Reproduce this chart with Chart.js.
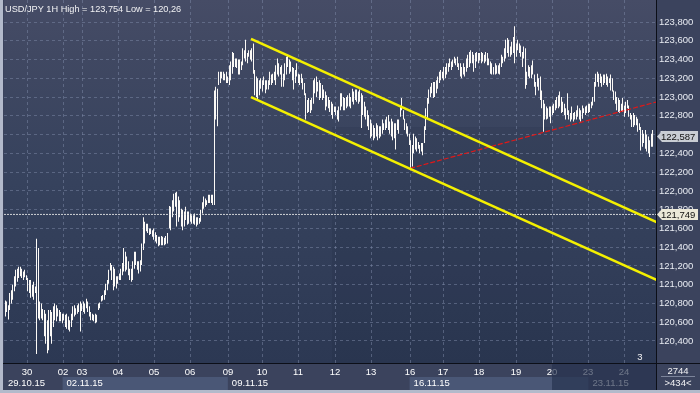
<!DOCTYPE html>
<html>
<head>
<meta charset="utf-8">
<script src="https://cdn.jsdelivr.net/npm/chart.js@4.4.1/dist/chart.umd.min.js"></script>
<style>
html, body { margin: 0; padding: 0; background: #3b435d; }
canvas { display: block; }
</style>
</head>
<body>
<canvas id="chart" width="700" height="393"></canvas>
<script>
// values
const symbol = 'USD/JPY 1H';
const highValue = '123,754';
const lowValue = '120,26';
const lastPrice = 122.587;
const levelPrice = 121.749;
const totalBars = 2744;
const visibleBars = 434;
const signalLabel = '3';

const priceTicks = [120.4, 120.6, 120.8, 121.0, 121.2, 121.4, 121.6, 121.8, 122.0, 122.2, 122.4, 122.6, 122.8, 123.0, 123.2, 123.4, 123.6, 123.8];
const dayTicks = [14.5, 38.5, 51.5, 75.5, 99.5, 123.5, 148.5, 171.5, 195.5, 219.5, 243.5, 269.5, 291.5, 315.5, 340.5, 364.5, 388.5, 412.5];
const dayLabels = ['30', '02', '03', '04', '05', '06', '09', '10', '11', '12', '13', '16', '17', '18', '19', '20', '23', '24'];
const weekTicks = [-0.5, 38.5, 148.5, 269.5, 388.5];
const weekLabels = ['29.10.15', '02.11.15', '09.11.15', '16.11.15', '23.11.15'];

// hourly bars, high and low
const high = [
  120.83,120.82,120.78,120.91,120.94,121.00,121.09,121.16,121.17,121.19,
  121.19,121.17,121.14,121.16,121.10,121.07,121.05,121.05,121.00,121.03,
  120.98,121.49,121.39,120.82,120.80,120.74,120.73,120.69,120.62,120.73,
  120.73,120.71,120.77,120.80,120.78,120.75,120.73,120.71,120.69,120.69,
  120.68,120.69,120.66,120.62,120.69,120.77,120.78,120.75,120.78,120.80,
  120.82,120.80,120.82,120.80,120.85,120.82,120.77,120.71,120.69,120.68,
  120.69,120.68,120.80,120.81,120.88,120.89,120.94,121.01,121.05,121.16,
  121.23,121.21,121.19,121.17,121.09,121.09,121.12,121.17,121.23,121.39,
  121.35,121.30,121.25,121.17,121.17,121.25,121.35,121.35,121.25,121.25,
  121.26,121.44,121.72,121.67,121.65,121.65,121.60,121.60,121.58,121.60,
  121.56,121.53,121.51,121.51,121.52,121.51,121.50,121.52,121.55,121.84,
  121.83,121.90,121.97,121.98,121.99,121.94,121.90,121.81,121.80,121.78,
  121.83,121.78,121.78,121.76,121.74,121.74,121.76,121.72,121.72,121.71,
  121.80,121.88,121.94,121.92,121.90,121.96,121.96,121.96,121.96,123.07,
  123.11,123.09,123.27,123.27,123.27,123.27,123.25,123.27,123.22,123.34,
  123.38,123.48,123.47,123.41,123.41,123.40,123.40,123.38,123.52,123.50,
  123.61,123.47,123.50,123.50,123.52,123.57,123.29,123.22,123.20,123.18,
  123.20,123.18,123.22,123.18,123.18,123.18,123.27,123.24,123.25,123.27,
  123.34,123.41,123.36,123.32,123.34,123.25,123.36,123.43,123.45,123.40,
  123.38,123.32,123.31,123.29,123.36,123.25,123.24,123.25,123.20,123.15,
  123.04,122.97,122.99,122.97,122.99,123.18,123.20,123.22,123.16,123.18,
  123.15,123.13,123.08,123.06,123.02,123.00,122.97,122.95,122.93,122.90,
  122.90,122.86,122.90,123.04,123.04,123.00,122.99,123.00,123.02,123.04,
  123.00,123.09,123.06,123.08,123.08,123.06,123.08,123.04,123.02,122.95,
  122.90,122.86,122.81,122.76,122.72,122.70,122.67,122.72,122.70,122.69,
  122.69,122.76,122.72,122.76,122.79,122.81,122.74,122.77,122.74,122.72,
  122.72,122.76,122.76,122.90,122.99,122.86,122.77,122.72,122.69,122.61,
  122.54,122.49,122.61,122.58,122.56,122.52,122.49,122.51,122.51,122.69,
  122.88,122.99,123.08,123.11,123.15,123.16,123.16,123.18,123.22,123.27,
  123.29,123.27,123.32,123.32,123.36,123.36,123.41,123.38,123.40,123.43,
  123.41,123.43,123.36,123.36,123.32,123.36,123.32,123.41,123.45,123.48,
  123.50,123.48,123.45,123.47,123.48,123.47,123.47,123.48,123.47,123.45,
  123.48,123.47,123.41,123.38,123.36,123.32,123.36,123.34,123.34,123.36,
  123.45,123.43,123.52,123.61,123.63,123.61,123.54,123.59,123.64,123.754,
  123.57,123.61,123.57,123.55,123.48,123.54,123.52,123.27,123.34,123.32,
  123.34,123.39,123.24,123.16,123.25,123.20,123.22,123.07,122.97,122.93,
  122.90,122.88,122.90,122.90,122.91,122.93,122.97,123.00,123.02,123.06,
  123.00,122.95,122.93,122.88,123.04,122.86,122.83,122.90,122.83,122.84,
  122.86,122.91,122.88,122.86,122.91,122.88,122.90,122.91,122.93,122.93,
  122.95,123.00,123.16,123.25,123.27,123.25,123.25,123.22,123.24,123.24,
  123.25,123.22,123.20,123.24,123.20,123.07,123.06,123.00,122.99,122.97,
  122.93,122.99,122.91,122.95,122.97,122.91,122.83,122.81,122.83,122.81,
  122.79,122.77,122.72,122.68,122.65,122.61,122.65,122.60,122.58,122.54,
  122.61,122.65
];
const low = [
  120.66,120.71,120.63,120.73,120.80,120.84,120.93,120.98,121.03,121.07,
  121.09,121.07,121.05,121.08,121.05,120.93,120.91,120.86,120.87,120.84,
  120.91,120.26,120.64,120.62,120.64,120.62,120.45,120.37,120.27,120.30,
  120.45,120.37,120.55,120.62,120.61,120.66,120.61,120.61,120.59,120.62,
  120.55,120.53,120.52,120.50,120.55,120.62,120.66,120.68,120.69,120.71,
  120.50,120.72,120.71,120.69,120.75,120.71,120.66,120.62,120.62,120.61,
  120.59,120.60,120.73,120.75,120.82,120.83,120.84,120.89,120.94,121.01,
  121.15,121.05,120.94,120.98,120.96,121.01,121.05,121.05,121.10,121.14,
  121.14,121.16,121.10,121.05,121.03,121.05,121.17,121.21,121.16,121.12,
  121.14,121.21,121.37,121.44,121.57,121.55,121.53,121.54,121.51,121.48,
  121.46,121.44,121.41,121.42,121.42,121.42,121.42,121.43,121.44,121.60,
  121.58,121.72,121.78,121.83,121.62,121.67,121.72,121.62,121.58,121.62,
  121.69,121.64,121.65,121.67,121.65,121.65,121.64,121.62,121.64,121.65,
  121.67,121.76,121.81,121.83,121.85,121.87,121.87,121.87,121.85,121.85,
  122.76,122.69,123.13,123.15,123.20,123.18,123.18,123.15,123.15,123.13,
  123.18,123.25,123.32,123.32,123.31,123.24,123.24,123.29,123.34,123.41,
  123.38,123.36,123.43,123.40,123.38,123.25,123.02,123.00,122.97,123.02,
  123.09,123.06,123.13,123.04,123.08,123.08,123.13,123.13,123.15,123.18,
  123.13,123.24,123.22,123.24,123.11,123.11,123.18,123.24,123.32,123.25,
  123.27,123.18,123.08,123.15,123.22,123.15,123.13,123.15,123.08,123.02,
  122.76,122.83,122.84,122.83,122.86,122.93,123.04,123.00,123.06,122.97,
  122.99,122.97,122.99,122.86,122.90,122.88,122.84,122.81,122.77,122.84,
  122.81,122.76,122.74,122.86,122.90,122.86,122.86,122.88,122.90,122.90,
  122.88,122.95,122.92,122.97,122.95,122.93,122.95,122.67,122.81,122.79,
  122.76,122.69,122.65,122.56,122.58,122.54,122.56,122.58,122.54,122.56,
  122.58,122.61,122.65,122.65,122.67,122.65,122.61,122.58,122.54,122.56,
  122.44,122.65,122.61,122.79,122.86,122.76,122.65,122.61,122.58,122.49,
  122.24,122.26,122.40,122.44,122.42,122.45,122.40,122.42,122.38,122.51,
  122.65,122.76,122.93,123.00,123.04,122.99,123.00,123.04,123.09,123.15,
  123.18,123.20,123.18,123.20,123.24,123.27,123.32,123.29,123.32,123.36,
  123.34,123.32,123.29,123.22,123.20,123.24,123.22,123.27,123.31,123.32,
  123.36,123.36,123.27,123.31,123.38,123.36,123.39,123.36,123.38,123.36,
  123.38,123.34,123.34,123.25,123.24,123.24,123.24,123.25,123.25,123.24,
  123.32,123.36,123.38,123.41,123.47,123.43,123.43,123.45,123.47,123.36,
  123.43,123.50,123.47,123.43,123.32,123.41,123.09,123.13,123.22,123.20,
  123.20,123.24,123.11,123.02,123.11,123.07,122.97,122.88,122.63,122.76,
  122.76,122.77,122.79,122.72,122.81,122.83,122.86,122.88,122.88,122.90,
  122.83,122.84,122.81,122.76,122.81,122.76,122.74,122.76,122.74,122.76,
  122.76,122.79,122.76,122.74,122.77,122.83,122.81,122.83,122.83,122.84,
  122.88,122.91,122.95,123.11,123.16,123.11,123.15,123.11,123.13,123.15,
  123.13,123.11,123.15,123.07,123.06,122.97,122.93,122.86,122.84,122.83,
  122.84,122.84,122.79,122.83,122.88,122.79,122.76,122.68,122.68,122.70,
  122.70,122.63,122.65,122.43,122.47,122.51,122.45,122.42,122.40,122.36,
  122.47,122.47
];

// drawn trend lines (bar index, price)
const channelTop = [{x: 164, y: 123.62}, {x: 434, y: 121.665}];
const channelBottom = [{x: 164, y: 123.00}, {x: 434, y: 121.05}];
const supportLine = [{x: 270, y: 122.24}, {x: 434, y: 122.95}];
const levelLine = [{x: -0.5, y: levelPrice}, {x: 433.5, y: levelPrice}];
const shadeRange = {from: 217.5, to: 364.5, top: 122.68};
const fadeFrom = 364.5;

function fmt(v, d) { return v.toFixed(d).replace('.', ','); }

// no label padding, the frame is fixed
function noPad(s) {
    s.paddingLeft = 0; s.paddingRight = 0; s.paddingTop = 0; s.paddingBottom = 0;
}

Chart.defaults.font.family = 'Liberation Sans';
Chart.defaults.font.size = 9.5;
Chart.defaults.color = '#eef0f6';

const gridColor = 'rgba(125,138,168,0.5)';

const frame = {
    id: 'frame',
    beforeDraw(chart) {
        const {ctx, chartArea: a, scales} = chart;
        ctx.save();
        ctx.fillStyle = '#3b435d';
        ctx.fillRect(0, 0, chart.width, chart.height);
        const g = ctx.createLinearGradient(0, a.top, 0, a.bottom);
        g.addColorStop(0, '#464c66');
        g.addColorStop(0.15, '#404862');
        g.addColorStop(0.5, '#36425d');
        g.addColorStop(1, '#2c3853');
        ctx.fillStyle = g;
        ctx.fillRect(a.left, a.top, a.right - a.left, a.bottom - a.top);
        // darker zone
        const sx0 = scales.x.getPixelForValue(shadeRange.from);
        const sx1 = scales.x.getPixelForValue(shadeRange.to);
        const sy = scales.y.getPixelForValue(shadeRange.top);
        ctx.fillStyle = 'rgba(20,28,52,0.10)';
        ctx.fillRect(sx0, sy, sx1 - sx0, a.bottom - sy);
        // week boxes
        const x2 = scales.x2;
        ctx.fillStyle = '#4a5776';
        for (let k = 1; k < weekTicks.length - 1; k += 2) {
            const p0 = x2.getPixelForValue(weekTicks[k]);
            const p1 = x2.getPixelForValue(weekTicks[k + 1]);
            ctx.fillRect(p0, x2.top + 1, p1 - p0, x2.bottom - x2.top - 1);
        }
        ctx.restore();
    },
    // bars sit on whole pixels
    beforeDatasetDraw(chart, args) {
        if (chart.data.datasets[args.index].type === 'bar') {
            chart.ctx.save();
            chart.ctx.translate(0.5, 0);
        }
    },
    afterDatasetDraw(chart, args) {
        if (chart.data.datasets[args.index].type === 'bar') chart.ctx.restore();
    },
    afterDraw(chart) {
        const {ctx, chartArea: a, scales} = chart;
        const W = chart.width, H = chart.height;
        ctx.save();
        // faded tail of the time axis
        const fx = scales.x.getPixelForValue(fadeFrom);
        ctx.fillStyle = 'rgba(38,50,78,0.68)';
        ctx.fillRect(fx, a.bottom + 1, a.right - fx, scales.x2.bottom - a.bottom - 1);

        // panel borders
        ctx.fillStyle = '#0c0f18';
        ctx.fillRect(0, a.bottom, W, 1);
        ctx.fillRect(a.right, 0, 1, H);
        ctx.fillStyle = '#b3bacb';
        ctx.fillRect(0, 0, 3, H);
        ctx.fillRect(0, H - 3, W, 3);

        // title
        ctx.font = '9.2px "Liberation Sans"';
        ctx.fillStyle = '#f2f2f4';
        ctx.textAlign = 'left';
        ctx.textBaseline = 'middle';
        ctx.fillText(symbol + ' High = ' + highValue + ' Low = ' + lowValue, 5, 9);

        // signal label
        ctx.font = '9.5px "Liberation Sans"';
        ctx.textAlign = 'center';
        ctx.fillText(signalLabel, scales.x.getPixelForValue(423), a.bottom - 6);

        // corner info
        const cx = (a.right + W) / 2;
        ctx.fillText(String(totalBars), cx, scales.x.top + 8);
        ctx.fillText('>' + visibleBars + '<', cx, scales.x2.top + 7);
        ctx.fillStyle = '#7c849a';
        ctx.fillRect(a.right + 5, scales.x.bottom, W - a.right - 10, 1);

        // price tags
        function tag(price, bg) {
            const y = Math.round(scales.y.getPixelForValue(price)) + 0.5;
            const x0 = a.right + 1;
            ctx.fillStyle = bg;
            ctx.beginPath();
            ctx.moveTo(x0, y);
            ctx.lineTo(x0 + 5, y - 5.5);
            ctx.lineTo(x0 + 41, y - 5.5);
            ctx.lineTo(x0 + 41, y + 5.5);
            ctx.lineTo(x0 + 5, y + 5.5);
            ctx.closePath();
            ctx.fill();
            ctx.fillStyle = '#101010';
            ctx.textAlign = 'left';
            ctx.fillText(fmt(price, 3), x0 + 4, y + 0.5);
        }
        tag(lastPrice, '#c9cdd4');
        tag(levelPrice, '#ebe8d8');
        ctx.restore();
    }
};

const bars = high.map((h, k) => ({x: k, y: [low[k], h]}));

new Chart(document.getElementById('chart'), {
    type: 'bar',
    data: {
        datasets: [{
            type: 'line', data: channelTop, borderColor: '#f4f000', borderWidth: 2.5,
            pointRadius: 0, order: 1
        }, {
            type: 'line', data: channelBottom, borderColor: '#f4f000', borderWidth: 2.5,
            pointRadius: 0, order: 1
        }, {
            type: 'line', data: supportLine, borderColor: '#e01818', borderWidth: 1.2,
            borderDash: [5, 2], pointRadius: 0, order: 2
        }, {
            type: 'line', data: levelLine, borderColor: 'rgba(235,235,235,0.85)', borderWidth: 1,
            borderDash: [2, 1], pointRadius: 0, order: 3
        }, {
            type: 'bar', data: bars, backgroundColor: '#fbf9f6', barThickness: 1,
            inflateAmount: 0, borderWidth: 0, borderSkipped: false, order: 5
        }]
    },
    options: {
        responsive: false,
        animation: false,
        events: [],
        layout: {padding: {left: 4, right: 0, top: 0, bottom: 3}},
        plugins: {legend: {display: false}, tooltip: {enabled: false}},
        scales: {
            x: {
                type: 'linear', min: -0.5, max: 433.5, position: 'bottom', offset: false,
                alignToPixels: true,
                afterBuildTicks: s => { s.ticks = dayTicks.map(v => ({value: v})); },
                afterFit: s => { s.height = 13; noPad(s); },
                ticks: {autoSkip: false, maxRotation: 0, padding: 4, color: '#ffffff',
                    callback: (v, i) => dayLabels[i]},
                grid: {color: gridColor, drawTicks: false, offset: false},
                border: {display: false, dash: [3, 3]}
            },
            x2: {
                type: 'linear', min: -0.5, max: 433.5, position: 'bottom', offset: false,
                afterBuildTicks: s => { s.ticks = weekTicks.map(v => ({value: v})); },
                afterFit: s => { s.height = 14; noPad(s); },
                ticks: {autoSkip: false, maxRotation: 0, padding: 2, align: 'start', labelOffset: 4,
                    color: '#ffffff', callback: (v, i) => weekLabels[i]},
                grid: {display: false, drawTicks: false, offset: false},
                border: {display: false}
            },
            y: {
                position: 'right', min: 120.165, max: 124.035,
                afterBuildTicks: s => { s.ticks = priceTicks.map(v => ({value: v})); },
                afterFit: s => { s.width = 44; noPad(s); },
                ticks: {padding: 3, color: '#e9ecf3', callback: v => fmt(v, 3)},
                grid: {color: gridColor, drawTicks: false},
                border: {display: false, dash: [3, 3]}
            }
        }
    },
    plugins: [frame]
});
</script>
</body>
</html>
